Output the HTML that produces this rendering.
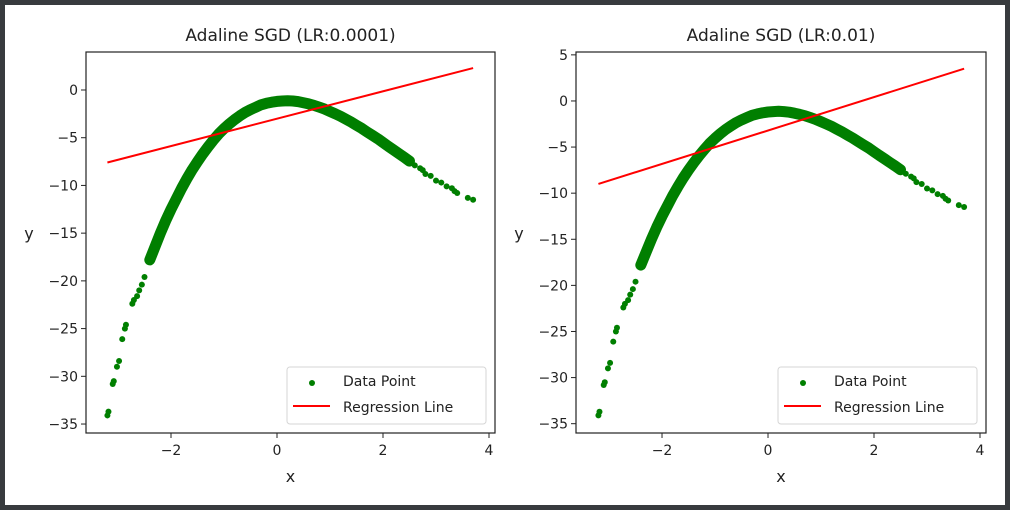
<!DOCTYPE html>
<html><head><meta charset="utf-8"><style>
html,body{margin:0;padding:0;background:#383b3e;}
#wrap{position:relative;width:1010px;height:510px;background:#383b3e;}
#inner{position:absolute;left:5px;top:5px;width:1000px;height:500px;background:#fff;}
svg{position:absolute;left:0;top:0;}
text{font-family:"DejaVu Sans","Liberation Sans",sans-serif;fill:#222;}
</style></head><body>
<div id="wrap">
<div id="inner"></div>
<svg id="chart" width="1010" height="510"></svg>
</div>
<script>
// ---- data ----
const denseX = [-2.4,-2.3,-2.2,-2.1,-2.0,-1.9,-1.8,-1.7,-1.6,-1.5,-1.4,-1.3,-1.2,-1.1,-1.0,-0.9,-0.8,-0.7,-0.6,-0.5,-0.4,-0.3,-0.2,-0.1,0.0,0.1,0.2,0.3,0.4,0.5,0.6,0.7,0.8,0.9,1.0,1.1,1.2,1.3,1.4,1.5,1.6,1.7,1.8,1.9,2.0,2.1,2.2,2.3,2.4,2.5];
const denseY = [-17.8,-16.4,-15.0,-13.7,-12.5,-11.4,-10.3,-9.3,-8.35,-7.5,-6.7,-5.95,-5.25,-4.6,-4.05,-3.55,-3.1,-2.7,-2.35,-2.05,-1.8,-1.55,-1.4,-1.28,-1.2,-1.15,-1.12,-1.15,-1.22,-1.33,-1.46,-1.61,-1.8,-2.0,-2.25,-2.5,-2.76,-3.06,-3.37,-3.7,-4.03,-4.4,-4.75,-5.1,-5.5,-5.9,-6.28,-6.67,-7.05,-7.45];
const tailX = [-3.2,-3.18,-3.1,-3.08,-3.02,-2.98,-2.92,-2.87,-2.85,-2.73,-2.7,-2.64,-2.6,-2.55,-2.5,2.6,2.7,2.75,2.8,2.9,3.0,3.1,3.2,3.3,3.35,3.4,3.6,3.7];
const tailY = [-34.1,-33.7,-30.8,-30.5,-29.0,-28.4,-26.1,-25.0,-24.6,-22.4,-22.0,-21.6,-21.0,-20.4,-19.6,-7.9,-8.2,-8.4,-8.8,-9.0,-9.5,-9.7,-10.1,-10.3,-10.6,-10.8,-11.3,-11.5];
const lineX = [-3.2, 3.7];
const lineYLeft = [-7.6, 2.3];
const lineYRight = [-9.0, 3.5];
const xTicks = [-2, 0, 2, 4];
const yTicksLeft = [0,-5,-10,-15,-20,-25,-30,-35];
const yTicksRight = [5,0,-5,-10,-15,-20,-25,-30,-35];
const titles = ["Adaline SGD (LR:0.0001)", "Adaline SGD (LR:0.01)"];

const NS = "http://www.w3.org/2000/svg";
const svg = document.getElementById('chart');
function mk(tag, attrs, parent){
  const e = document.createElementNS(NS, tag);
  for (const k in attrs) e.setAttribute(k, attrs[k]);
  (parent||svg).appendChild(e);
  return e;
}
function fmt(v){ return v < 0 ? "\u2212" + Math.abs(v) : String(v); }

function panel(p){
  const g = mk('g', {});
  
  
  const sx = v => p.x0 + (v - p.xmin) / (p.xmax - p.xmin) * (p.x1 - p.x0);
  const sy = v => p.y1 - (v - p.ymin) / (p.ymax - p.ymin) * (p.y1 - p.y0);

  // title
  const t = mk('text', {x:(p.x0+p.x1)/2, y:41, 'text-anchor':'middle', 'font-size':'17'}, g);
  t.textContent = p.title;
  
  

  // scatter band (dense region)
  const pts = denseX.map((x,i)=>sx(x).toFixed(1)+","+sy(denseY[i]).toFixed(1)).join(" ");
  const band = mk('polyline', {points:pts, fill:'none', stroke:'#007f00', 'stroke-width':'11', 'stroke-linejoin':'round', 'stroke-linecap':'round'}, g);
  
  
  denseX.forEach((x,i)=>{
    const c = mk('circle', {cx:sx(x), cy:sy(denseY[i]), r:3, fill:'#007f00'}, g);
    
    
  });
  tailX.forEach((x,i)=>{
    const c = mk('circle', {cx:sx(x), cy:sy(tailY[i]), r:3, fill:'#007f00'}, g);
    
    
  });

  // regression line
  const rl = mk('line', {x1:sx(lineX[0]), y1:sy(p.lineY[0]), x2:sx(lineX[1]), y2:sy(p.lineY[1]), stroke:'#ff0000', 'stroke-width':'2'}, g);
  
  

  // axes frame
  const fr = mk('rect', {x:p.x0, y:p.y0, width:p.x1-p.x0, height:p.y1-p.y0, fill:'none', stroke:'#222', 'stroke-width':'1.2'}, g);
  
  

  xTicks.forEach(v=>{
    const X = sx(v);
    mk('line', {x1:X, y1:p.y1, x2:X, y2:p.y1+5, stroke:'#222', 'stroke-width':'1'}, g);
    const tl = mk('text', {x:X, y:p.y1+22, 'text-anchor':'middle', 'font-size':'14'}, g);
    tl.textContent = fmt(v);
    
    
  });
  p.yTicks.forEach(v=>{
    const Y = sy(v);
    mk('line', {x1:p.x0-5, y1:Y, x2:p.x0, y2:Y, stroke:'#222', 'stroke-width':'1'}, g);
    const tl = mk('text', {x:p.x0-8, y:Y+5, 'text-anchor':'end', 'font-size':'14'}, g);
    tl.textContent = fmt(v);
    
    
  });

  const xl = mk('text', {x:(p.x0+p.x1)/2, y:482, 'text-anchor':'middle', 'font-size':'16'}, g);
  xl.textContent = 'x';
  
  
  const yl = mk('text', {x:p.ylabX, y:239, 'text-anchor':'middle', 'font-size':'16'}, g);
  yl.textContent = 'y';
  
  

  // legend
  const lg = mk('g', {}, g);
  
  
  mk('rect', {x:p.legX, y:367, width:199, height:57, rx:3, fill:'#fff', 'fill-opacity':'0.8', stroke:'#d6d6d6', 'stroke-width':'1'}, lg);
  const ld = mk('circle', {cx:p.legX+25, cy:383, r:3, fill:'#007f00'}, lg);
  
  
  const lt1 = mk('text', {x:p.legX+56, y:386, 'font-size':'14'}, lg);
  lt1.textContent = 'Data Point';
  
  
  const ll = mk('line', {x1:p.legX+6, y1:406, x2:p.legX+43, y2:406, stroke:'#ff0000', 'stroke-width':'2'}, lg);
  
  
  const lt2 = mk('text', {x:p.legX+56, y:412, 'font-size':'14'}, lg);
  lt2.textContent = 'Regression Line';
  
  
}

panel({name:'left-panel', title:titles[0], x0:86, x1:495, y0:52, y1:433,
  xmin:-3.604, xmax:4.113, ymin:-35.94, ymax:3.98, yTicks:yTicksLeft, lineY:lineYLeft, ylabX:29, legX:287});
panel({name:'right-panel', title:titles[1], x0:576, x1:986, y0:52, y1:433,
  xmin:-3.623, xmax:4.113, ymin:-36.01, ymax:5.31, yTicks:yTicksRight, lineY:lineYRight, ylabX:519, legX:778});
</script>
</body></html>
